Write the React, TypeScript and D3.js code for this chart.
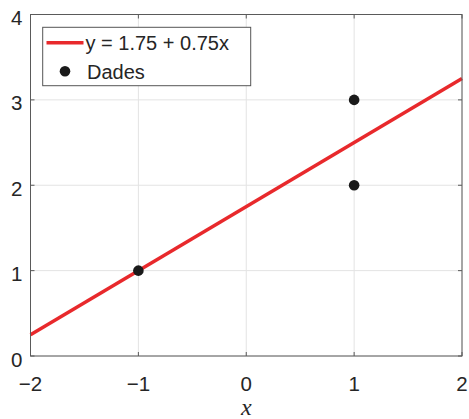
import React from 'react';
import * as d3 from 'd3';

const xTicks = [-2, -1, 0, 1, 2];
const yTicks = [0, 1, 2, 3, 4];
const dataX = [-1, 1, 1];
const dataY = [1, 2, 3];
const intercept = 1.75;
const slope = 0.75;
const lineLabel = 'y = 1.75 + 0.75x';
const dotLabel = 'Dades';

const W = 469;
const H = 419;
const left = 30.5, right = 462, top = 14.5, bottom = 356;

export default function App() {
  const x = d3.scaleLinear().domain([-2, 2]).range([left, right]);
  const y = d3.scaleLinear().domain([0, 4]).range([bottom, top]);

  const fitPts: [number, number][] = x.domain().map(v => [v, intercept + slope * v]);
  const line = d3.line<[number, number]>()
    .x(d => x(d[0]))
    .y(d => y(d[1]));

  const font = '"Liberation Sans", Arial, Helvetica, sans-serif';
  const axisCol = '#5a5a5a';
  const textCol = '#262626';

  return (
    <svg width={W} height={H} style={{ position: 'absolute', left: 0, top: 0, background: '#fff' }}>
      {/* grid */}
      {xTicks.map(t => (
        <line key={'gx' + t} x1={x(t)} x2={x(t)} y1={top} y2={bottom} stroke="#e3e3e3" strokeWidth={1} />
      ))}
      {yTicks.map(t => (
        <line key={'gy' + t} x1={left} x2={right} y1={y(t)} y2={y(t)} stroke="#e3e3e3" strokeWidth={1} />
      ))}

      {/* fit line */}
      <path d={line(fitPts) || ''} fill="none" stroke="#e8292c" strokeWidth={3.5} />

      {/* data points */}
      {dataX.map((v, i) => (
        <circle key={'p' + i} cx={x(v)} cy={y(dataY[i])} r={5.3} fill="#1a1a1a" />
      ))}

      {/* axes box */}
      <rect x={left} y={top} width={right - left} height={bottom - top} fill="none" stroke={axisCol} strokeWidth={1} />
      {xTicks.map(t => (
        <g key={'tx' + t}>
          <line x1={x(t)} x2={x(t)} y1={bottom} y2={bottom - 4} stroke={axisCol} />
          <line x1={x(t)} x2={x(t)} y1={top} y2={top + 4} stroke={axisCol} />
          <text x={x(t)} y={390.5} textAnchor="middle" fontFamily={font} fontSize={20.5} fill={textCol}>
            {t < 0 ? '\u2212' + Math.abs(t) : String(t)}
          </text>
        </g>
      ))}
      {yTicks.map(t => (
        <g key={'ty' + t}>
          <line x1={left} x2={left + 4} y1={y(t)} y2={y(t)} stroke={axisCol} />
          <line x1={right} x2={right - 4} y1={y(t)} y2={y(t)} stroke={axisCol} />
          <text x={22.5} y={y(t) + 10.5} textAnchor="end" fontFamily={font} fontSize={20.5} fill={textCol}>
            {t}
          </text>
        </g>
      ))}

      {/* x label */}
      <text x={x(0)} y={415} textAnchor="middle" fontFamily='"Liberation Serif", "DejaVu Serif", serif' fontStyle="italic" fontSize={24} fill={textCol}>
        x
      </text>

      {/* legend */}
      <rect x={42.7} y={27.3} width={208} height={58.4} fill="#fff" stroke="#555" strokeWidth={1} />
      <line x1={46.5} x2={83.5} y1={42.7} y2={42.7} stroke="#e8292c" strokeWidth={3.5} />
      <text x={85.5} y={50} fontFamily={font} fontSize={20} fill={textCol}>{lineLabel}</text>
      <circle cx={65} cy={71.3} r={5.3} fill="#1a1a1a" />
      <text x={87} y={79} fontFamily={font} fontSize={20} fill={textCol}>{dotLabel}</text>
    </svg>
  );
}
